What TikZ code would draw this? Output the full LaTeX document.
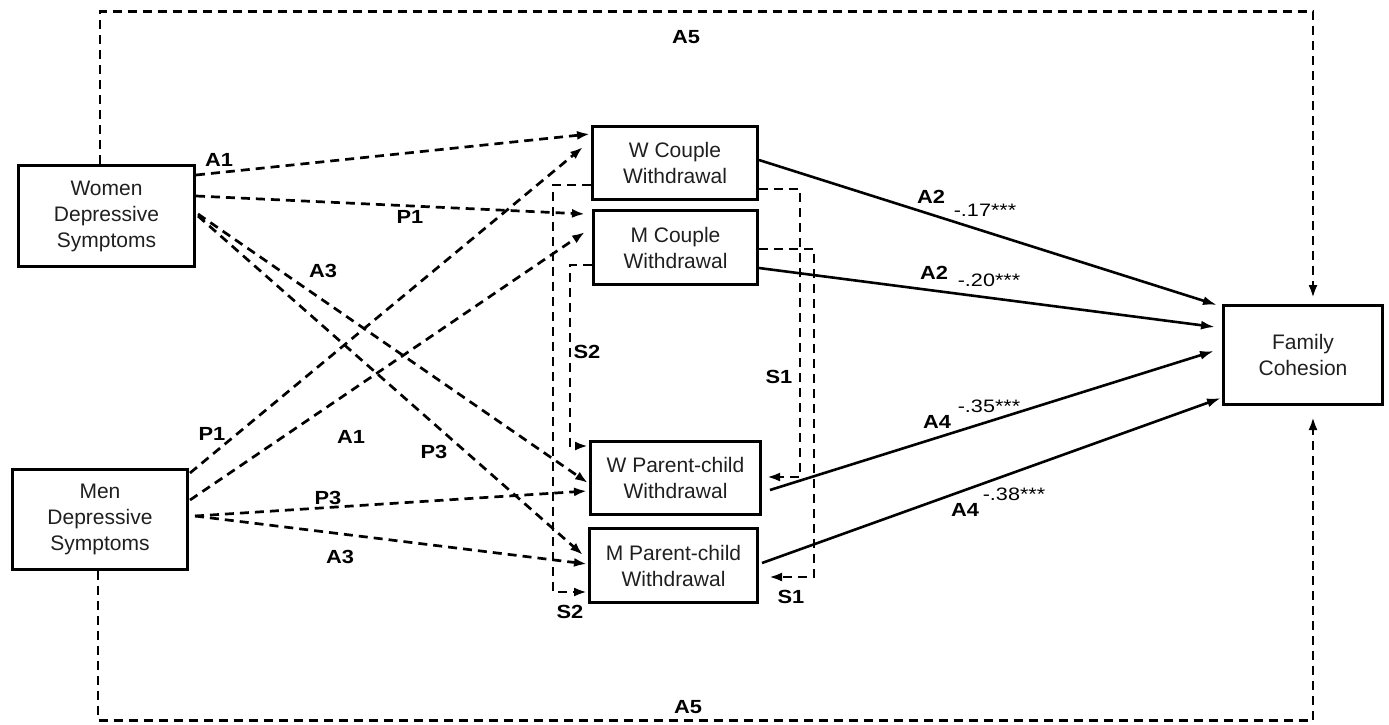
\documentclass[tikz,border=0pt]{standalone}
\usepackage{fontspec}
\setmainfont{Liberation Sans}
\newfontfamily\lblfont[FakeStretch=1.15]{Liberation Sans}
\newfontfamily\coeffont[FakeStretch=1.2]{Liberation Sans}
\usetikzlibrary{arrows.meta}
\begin{document}
\begin{tikzpicture}[x=1pt,y=-1pt,
  box/.style={draw,line width=2.7pt,inner sep=0pt,align=center,text=black!88,font=\fontsize{21}{26}\selectfont},
  lbl/.style={font=\lblfont\bfseries\fontsize{19}{20}\selectfont,inner sep=0pt},
  coef/.style={font=\coeffont\fontsize{18}{18}\selectfont,inner sep=0pt},
  dline/.style={line width=2.7pt,dash pattern=on 9pt off 6pt,-{Latex[length=13pt,width=9pt]}},
  sline/.style={line width=2.6pt,-{Latex[length=14pt,width=9pt]}}]
\useasboundingbox (0,0) rectangle (1389,724);

% boxes
\node[box,minimum width=176.3pt,minimum height=101.3pt] (W) at (106.5,216) {Women\\Depressive\\Symptoms};
\node[box,minimum width=175.3pt,minimum height=100.3pt] (M) at (100,519.5) {Men\\Depressive\\Symptoms};
\node[box,minimum width=165.3pt,minimum height=73.3pt] (WC) at (675,163) {W Couple\\Withdrawal};
\node[box,minimum width=164.3pt,minimum height=74.3pt] (MC) at (675.5,247.5) {M Couple\\Withdrawal};
\node[box,minimum width=170.3pt,minimum height=73.3pt] (WP) at (675.5,478) {W Parent-child\\Withdrawal};
\node[box,minimum width=168.3pt,minimum height=74.3pt] (MP) at (673.5,565.5) {M Parent-child\\Withdrawal};
\node[box,minimum width=159.3pt,minimum height=99.3pt] (FC) at (1303,355) {Family\\Cohesion};

% A5 outer paths
\coordinate (TR) at (1313,11.5);
\coordinate (BR) at (1313,720.5);
\draw[dline] ([xshift=-6.5pt]W.north) |- (TR) -- ([xshift=10pt,yshift=6pt]FC.north);
\draw[dline] ([xshift=-2pt]M.south) |- (BR) -- ([xshift=10pt,yshift=-11pt]FC.south);

% from Women
\draw[dline] ([yshift=-11pt]W.north east) -- ([xshift=-1pt,yshift=-9pt]WC.north west);
\draw[dline] ([yshift=-32pt]W.north east) -- ([xshift=-7pt,yshift=-5pt]MC.north west);
\draw[dline] ([xshift=2pt,yshift=-50pt]W.north east) -- ([xshift=-1pt,yshift=-43pt]WP.north west);
\draw[dline] ([xshift=2pt,yshift=-52pt]W.north east) -- ([xshift=-5pt,yshift=-28pt]MP.north west);

% from Men
\draw[dline] ([xshift=1pt,yshift=-5pt]M.north east) -- ([xshift=-8pt,yshift=-22pt]WC.north west);
\draw[dline] ([xshift=1pt,yshift=-32pt]M.north east) -- ([xshift=-7pt,yshift=-23pt]MC.north west);
\draw[dline] ([xshift=6pt,yshift=-48pt]M.north east) -- ([xshift=-2pt,yshift=-51pt]WP.north west);
\draw[dline] ([xshift=6pt,yshift=-48pt]M.north east) -- ([xshift=-1pt,yshift=-37pt]MP.north west);

% spillover paths
\draw[dline] ([yshift=-60pt]WC.north west) -- ++(-38,0) |- ([xshift=-1pt,yshift=-65pt]MP.north west);
\draw[dline] ([yshift=-56pt]MC.north west) -- ++(-22,0) |- ([xshift=-1pt,yshift=-6pt]WP.north west);
\draw[dline] ([yshift=-64pt]WC.north east) -- ++(41,0) |- ([xshift=5pt,yshift=-37pt]WP.north east);
\draw[dline] ([yshift=-40pt]MC.north east) -- ++(55,0) |- ([xshift=10pt,yshift=-50pt]MP.north east);

% solid paths to Family Cohesion
\draw[sline] ([yshift=-35pt]WC.north east) -- ([xshift=-5pt,yshift=-1pt]FC.north west);
\draw[sline] ([yshift=-59pt]MC.north east) -- ([xshift=-7pt,yshift=-23pt]FC.north west);
\draw[sline] ([xshift=8pt,yshift=-50pt]WP.north east) -- ([xshift=-8pt,yshift=-47pt]FC.north west);
\draw[sline] ([xshift=3pt,yshift=-36pt]MP.north east) -- ([xshift=-1pt,yshift=8pt]FC.south west);

% labels
\node[lbl] (lA5t) at (686,37) {A5};
\node[lbl] (lA5b) at (688,707) {A5};
\node[lbl] (lA1w) at (219,160) {A1};
\node[lbl] (lP1w) at (410,217) {P1};
\node[lbl] (lA3w) at (323,271) {A3};
\node[lbl] (lP1m) at (212,434) {P1};
\node[lbl] (lA1m) at (351,437) {A1};
\node[lbl] (lP3w) at (434,452) {P3};
\node[lbl] (lP3m) at (328,498) {P3};
\node[lbl] (lA3m) at (340,557) {A3};
\node[lbl] (lS2t) at (587,352) {S2};
\node[lbl] (lS1t) at (779,377) {S1};
\node[lbl] (lS2b) at (570,612) {S2};
\node[lbl] (lS1b) at (791,597) {S1};
\node[lbl] (lA2a) at (931,197) {A2};
\node[coef] (c17) at (985,210) {-.17***};
\node[lbl] (lA2b) at (934,273) {A2};
\node[coef] (c20) at (989,280) {-.20***};
\node[lbl] (lA4a) at (937,422) {A4};
\node[coef] (c35) at (989,406) {-.35***};
\node[lbl] (lA4b) at (965,510) {A4};
\node[coef] (c38) at (1014,494) {-.38***};
\end{tikzpicture}
\end{document}
